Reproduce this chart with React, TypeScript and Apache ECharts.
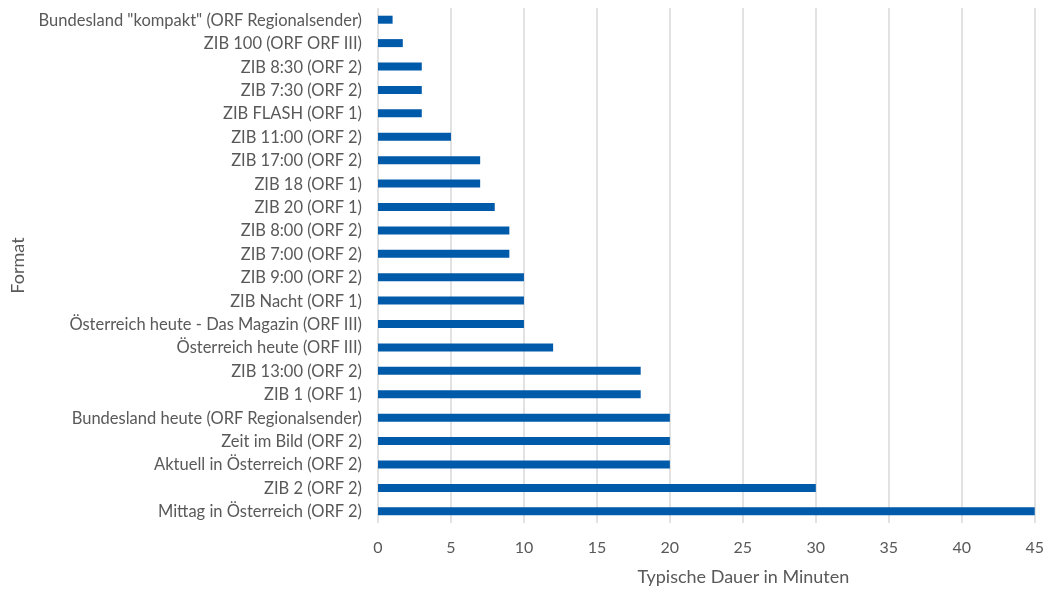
import React, { useEffect, useRef } from "react";
import * as echarts from "echarts";

const categories = [
  "Mittag in Österreich (ORF 2)",
  "ZIB 2 (ORF 2)",
  "Aktuell in Österreich (ORF 2)",
  "Zeit im Bild (ORF 2)",
  "Bundesland heute (ORF Regionalsender)",
  "ZIB 1 (ORF 1)",
  "ZIB 13:00 (ORF 2)",
  "Österreich heute (ORF III)",
  "Österreich heute - Das Magazin (ORF III)",
  "ZIB Nacht (ORF 1)",
  "ZIB 9:00 (ORF 2)",
  "ZIB 7:00 (ORF 2)",
  "ZIB 8:00 (ORF 2)",
  "ZIB 20 (ORF 1)",
  "ZIB 18 (ORF 1)",
  "ZIB 17:00 (ORF 2)",
  "ZIB 11:00 (ORF 2)",
  "ZIB FLASH (ORF 1)",
  "ZIB 7:30 (ORF 2)",
  "ZIB 8:30 (ORF 2)",
  "ZIB 100 (ORF ORF III)",
  'Bundesland "kompakt" (ORF Regionalsender)',
];

const durations = [45, 30, 20, 20, 20, 18, 18, 12, 10, 10, 10, 9, 9, 8, 7, 7, 5, 3, 3, 3, 1.7, 1];

const xTicks = [0, 5, 10, 15, 20, 25, 30, 35, 40, 45];

export default function App() {
  const ref = useRef<HTMLDivElement>(null);
  useEffect(() => {
    if (!ref.current) return;
    const chart = echarts.init(ref.current, undefined, { renderer: "svg" });
    const font = "Lato, 'Open Sans', sans-serif";
    chart.setOption({
      animation: false,
      textStyle: { fontFamily: font },
      grid: { left: 377, right: 11, top: 8, bottom: 59, containLabel: false },
      xAxis: {
        type: "value",
        min: xTicks[0],
        max: xTicks[xTicks.length - 1],
        interval: 5,
        name: "Typische Dauer in Minuten",
        nameLocation: "middle",
        nameGap: 44,
        nameTextStyle: {
          color: "#595959",
          fontSize: 18,
          fontFamily: font,
          padding: [0, 0, 0, 74],
        },
        axisLine: { show: false },
        axisTick: { show: false },
        axisLabel: { color: "#595959", fontSize: 16, margin: 15, fontFamily: font },
        splitLine: { show: true, lineStyle: { color: "#d9d9d9", width: 1.5 } },
      },
      yAxis: {
        type: "category",
        data: categories,
        name: "Format",
        nameLocation: "middle",
        nameRotate: 90,
        nameGap: 352,
        nameTextStyle: { color: "#595959", fontSize: 18, fontFamily: font },
        axisLine: { show: false },
        axisTick: { show: false },
        axisLabel: { color: "#595959", fontSize: 16.5, margin: 16, fontFamily: font },
        splitLine: { show: false },
      },
      series: [
        {
          type: "bar",
          data: durations,
          barWidth: 8,
          itemStyle: { color: "#005aaa" },
        },
      ],
    });
    return () => chart.dispose();
  }, []);
  return (
    <div
      ref={ref}
      style={{ position: "fixed", left: 0, top: 0, width: 1047, height: 590 }}
    />
  );
}
